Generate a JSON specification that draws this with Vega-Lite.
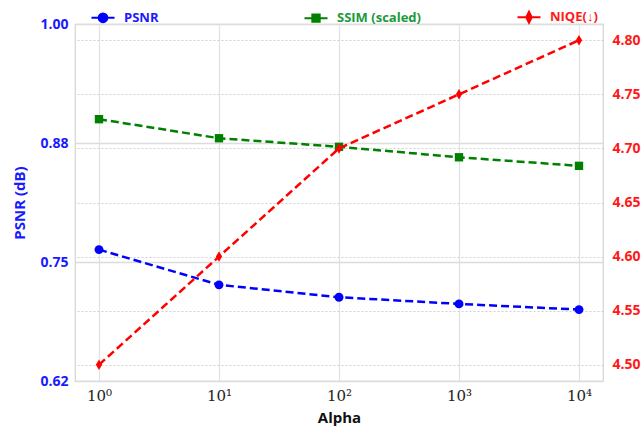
{
  "$schema": "https://vega.github.io/schema/vega-lite/v6.json",
  "width": 528,
  "height": 357,
  "autosize": {"type": "none"},
  "padding": {"left": 75, "top": 24, "right": 39, "bottom": 48},
  "background": "white",
  "config": {
    "view": {"stroke": "#d4d4d4", "strokeWidth": 1.2},
    "font": "Open Sans"
  },
  "data": {
    "values": [
      {"alpha": 1, "series": "PSNR", "value": 0.763},
      {"alpha": 10, "series": "PSNR", "value": 0.726},
      {"alpha": 100, "series": "PSNR", "value": 0.713},
      {"alpha": 1000, "series": "PSNR", "value": 0.706},
      {"alpha": 10000, "series": "PSNR", "value": 0.700},
      {"alpha": 1, "series": "SSIM (scaled)", "value": 0.900},
      {"alpha": 10, "series": "SSIM (scaled)", "value": 0.880},
      {"alpha": 100, "series": "SSIM (scaled)", "value": 0.871},
      {"alpha": 1000, "series": "SSIM (scaled)", "value": 0.860},
      {"alpha": 10000, "series": "SSIM (scaled)", "value": 0.851},
      {"alpha": 1, "series": "NIQE(↓)", "value": 4.50},
      {"alpha": 10, "series": "NIQE(↓)", "value": 4.60},
      {"alpha": 100, "series": "NIQE(↓)", "value": 4.70},
      {"alpha": 1000, "series": "NIQE(↓)", "value": 4.75},
      {"alpha": 10000, "series": "NIQE(↓)", "value": 4.80}
    ]
  },
  "encoding": {
    "x": {
      "field": "alpha",
      "type": "quantitative",
      "scale": {"type": "log", "domain": [0.631, 15849], "nice": false},
      "axis": {
        "title": "Alpha",
        "titleFont": "Open Sans",
        "titleFontWeight": "bold",
        "titleFontSize": 15,
        "titleColor": "#111111",
        "titlePadding": 7,
        "values": [1, 10, 100, 1000, 10000],
        "labelExpr": "datum.value < 5 ? '10⁰' : datum.value < 50 ? '10¹' : datum.value < 500 ? '10²' : datum.value < 5000 ? '10³' : '10⁴'",
        "labelFont": "DejaVu Serif",
        "labelFontSize": 15,
        "labelColor": "#222222",
        "labelPadding": 7,
        "ticks": false,
        "domain": false,
        "grid": true,
        "gridColor": "#e2e2e2",
        "gridWidth": 1.2
      }
    },
    "color": {
      "field": "series",
      "type": "nominal",
      "scale": {
        "domain": ["PSNR", "SSIM (scaled)", "NIQE(↓)"],
        "range": ["#0000ff", "#008000", "#ff0000"]
      },
      "legend": {
        "orient": "none",
        "legendX": 15,
        "legendY": -20,
        "direction": "horizontal",
        "title": null,
        "columns": 3,
        "gridAlign": "all",
        "columnPadding": 92,
        "symbolSize": 530,
        "symbolType": "M-1,0L1,0",
        "symbolStrokeWidth": 2,
        "labelFont": "Open Sans",
        "labelFontWeight": "bold",
        "labelFontSize": 13,
        "labelOffset": 8,
        "encode": {
          "symbols": {
            "update": {
              "shape": {"signal": "datum.value === 'PSNR' ? 'M-1,0L1,0M0.38,0A0.38,0.38,0,1,1,-0.38,0A0.38,0.38,0,1,1,0.38,0Z' : datum.value === 'SSIM (scaled)' ? 'M-1,0L1,0M-0.32,-0.32L0.32,-0.32L0.32,0.32L-0.32,0.32Z' : 'M-1,0L1,0M0,-0.48L0.24,0L0,0.48L-0.24,0Z'"},
              "fill": {"scale": "color", "field": "value"},
              "stroke": {"scale": "color", "field": "value"},
              "fillOpacity": {"value": 1},
              "strokeWidth": {"value": 2}
            }
          },
          "labels": {
            "update": {
              "fill": {"signal": "datum.value === 'PSNR' ? '#1a1aff' : datum.value === 'SSIM (scaled)' ? '#1a9a3a' : '#ff1a1a'"}
            }
          }
        }
      }
    }
  },
  "layer": [
    {
      "transform": [{"filter": "datum.series !== 'NIQE(↓)'"}],
      "encoding": {
        "y": {
          "field": "value",
          "type": "quantitative",
          "scale": {"domain": [0.625, 1.0], "nice": false, "zero": false},
          "axis": {
            "orient": "left",
            "title": "PSNR (dB)",
            "titleColor": "#1a1aff",
            "titleFont": "Open Sans",
            "titleFontWeight": "bold",
            "titleFontSize": 15,
            "titlePadding": 12,
            "values": [0.625, 0.75, 0.875, 1.0],
            "labelExpr": "datum.value < 0.7 ? '0.62' : format(datum.value, '.2f')",
            "labelColor": "#1a1aff",
            "labelFont": "Open Sans",
            "labelFontWeight": "bold",
            "labelFontSize": 14,
            "labelPadding": 7,
            "ticks": false,
            "domain": false,
            "grid": true,
            "gridColor": "#dcdcdc",
            "gridWidth": 1.3
          }
        }
      },
      "layer": [
        {"mark": {"type": "line", "strokeWidth": 2.5, "strokeDash": [8, 4]}},
        {
          "transform": [{"filter": "datum.series === 'PSNR'"}],
          "mark": {"type": "point", "shape": "circle", "filled": true, "size": 80, "opacity": 1}
        },
        {
          "transform": [{"filter": "datum.series === 'SSIM (scaled)'"}],
          "mark": {"type": "point", "shape": "square", "filled": true, "size": 70, "opacity": 1}
        }
      ]
    },
    {
      "transform": [{"filter": "datum.series === 'NIQE(↓)'"}],
      "encoding": {
        "y": {
          "field": "value",
          "type": "quantitative",
          "scale": {"domain": [4.485, 4.815], "nice": false, "zero": false},
          "axis": {
            "orient": "right",
            "title": null,
            "values": [4.5, 4.55, 4.6, 4.65, 4.7, 4.75, 4.8],
            "format": ".2f",
            "labelColor": "#ff1a1a",
            "labelFont": "Open Sans",
            "labelFontWeight": "bold",
            "labelFontSize": 14,
            "labelPadding": 9,
            "ticks": false,
            "domain": false,
            "grid": true,
            "gridColor": "#d0d0d0",
            "gridDash": [2, 2],
            "gridWidth": 1
          }
        }
      },
      "layer": [
        {"mark": {"type": "line", "strokeWidth": 2.5, "strokeDash": [8, 4]}},
        {"mark": {"type": "point", "shape": "M0,-1L0.6,0L0,1L-0.6,0Z", "filled": true, "size": 110, "opacity": 1}}
      ]
    }
  ],
  "resolve": {"scale": {"y": "independent"}}
}
